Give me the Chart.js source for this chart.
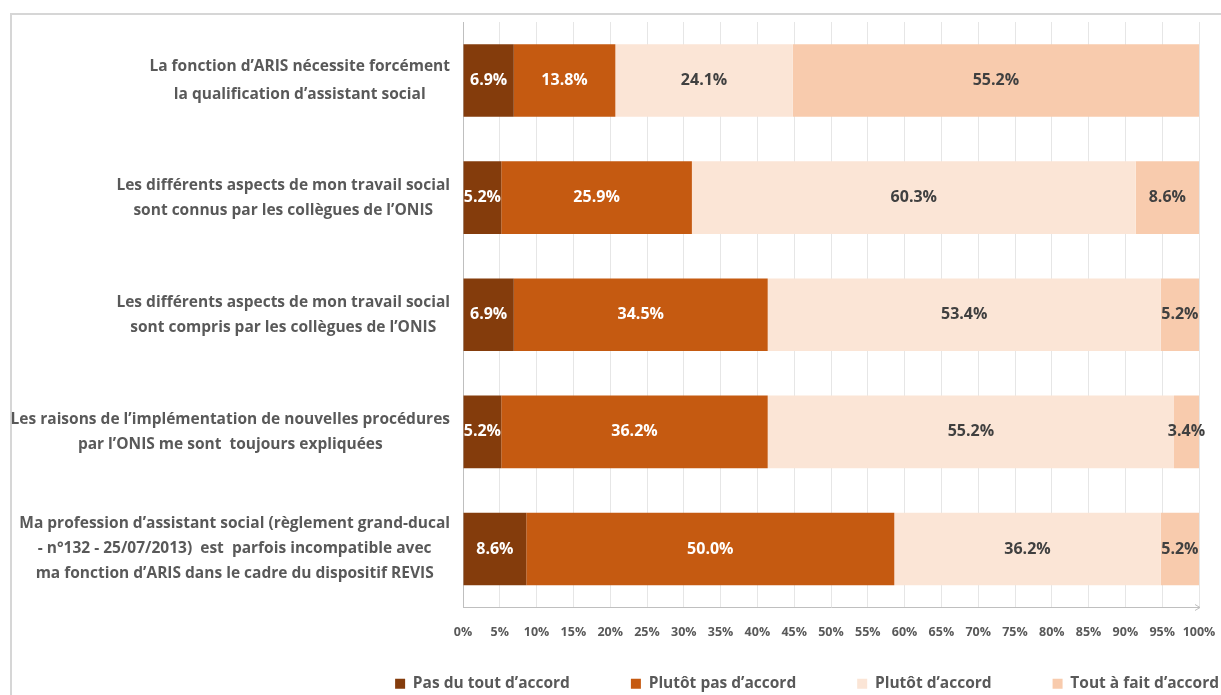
<!DOCTYPE html>
<html><head><meta charset="utf-8">
<script src="https://cdn.jsdelivr.net/npm/chart.js@4/dist/chart.umd.min.js"></script>
<style>
html,body{margin:0;padding:0;background:#fff;overflow:hidden;width:1221px;height:695px;}
#frame{position:absolute;left:10px;top:13px;width:1400px;height:800px;border:2px solid #d6d6d6;box-sizing:border-box;}
#wrap{position:absolute;left:0;top:0;width:1300px;height:743px;}
</style></head><body>
<div id="frame"></div>
<div id="wrap"><canvas id="c"></canvas></div>
<script>
const categories = [
  ["La fonction d\u2019ARIS nécessite forcément", "la qualification d\u2019assistant social"],
  ["Les différents aspects de mon travail social", "sont connus par les collègues de l\u2019ONIS"],
  ["Les différents aspects de mon travail social", "sont compris par les collègues de l\u2019ONIS"],
  ["Les raisons de l\u2019implémentation de nouvelles procédures", "par l\u2019ONIS me sont  toujours expliquées"],
  ["Ma profession d\u2019assistant social (règlement grand-ducal", "- n°132 - 25/07/2013)  est  parfois incompatible avec", "ma fonction d\u2019ARIS dans le cadre du dispositif REVIS"]
];
const seriesNames = ["Pas du tout d\u2019accord", "Plutôt pas d\u2019accord", "Plutôt d\u2019accord", "Tout à fait d\u2019accord"];
const pasDuTout = [6.9, 5.2, 6.9, 5.2, 8.6];
const plutotPas = [13.8, 25.9, 34.5, 36.2, 50.0];
const plutot = [24.1, 60.3, 53.4, 55.2, 36.2];
const toutAFait = [55.2, 8.6, 5.2, 3.4, 5.2];
const xTickStep = 5;

const FONT = "'Open Sans', 'Noto Sans', sans-serif";
const colors = ["#843C0C", "#C55A11", "#FBE5D6", "#F8CBAD"];
const labelColors = ["#ffffff", "#ffffff", "#404040", "#404040"];

const catLabelPlugin = {
  id: 'catLabels',
  afterLayout(chart) {
    // lift the legend row closer to the axis
    if (chart.legend) { chart.legend.top -= 41.5; chart.legend.bottom -= 41.5; }
  },
  afterDraw(chart) {
    const ctx = chart.ctx, ys = chart.scales.y, area = chart.chartArea;
    ctx.save();
    ctx.font = "bold 15.5px " + FONT;
    ctx.fillStyle = "#595959";
    ctx.textAlign = "center";
    ctx.textBaseline = "middle";
    const right = area.left - 13;
    categories.forEach((lines, i) => {
      const lh = lines.length === 2 && i === 0 ? 28 : 25;
      const y = ys.getPixelForValue(i);
      const maxW = Math.max(...lines.map(l => ctx.measureText(l).width));
      const cx = right - maxW / 2;
      const y0 = y - (lines.length - 1) * lh / 2;
      lines.forEach((l, k) => ctx.fillText(l, cx, y0 + k * lh));
    });
    // small arrow head at the end of the value axis
    ctx.strokeStyle = "#bfbfbf";
    ctx.lineWidth = 1;
    ctx.beginPath();
    ctx.moveTo(area.right - 4, area.bottom - 3);
    ctx.lineTo(area.right + 1, area.bottom);
    ctx.lineTo(area.right - 4, area.bottom + 3);
    ctx.stroke();
    ctx.restore();
  }
};

const valueLabelPlugin = {
  id: 'valueLabels',
  afterDatasetsDraw(chart) {
    const ctx = chart.ctx;
    ctx.save();
    ctx.font = "bold 16px " + FONT;
    ctx.textAlign = "center";
    ctx.textBaseline = "middle";
    chart.data.datasets.forEach((ds, di) => {
      const meta = chart.getDatasetMeta(di);
      ctx.fillStyle = labelColors[di];
      meta.data.forEach((el, i) => {
        const v = ds.data[i];
        ctx.fillText(v.toFixed(1) + "%", (el.x + el.base) / 2, el.y);
      });
    });
    ctx.restore();
  }
};

new Chart(document.getElementById('c'), {
  type: 'bar',
  data: {
    labels: categories,
    datasets: [pasDuTout, plutotPas, plutot, toutAFait].map((d, i) => ({
      label: seriesNames[i],
      data: d,
      backgroundColor: colors[i],
      borderWidth: 0,
      categoryPercentage: 0.62,
      barPercentage: 1.0
    }))
  },
  options: {
    indexAxis: 'y',
    responsive: true,
    maintainAspectRatio: false,
    animation: false,
    layout: { padding: { left: 0, right: 20, top: 22, bottom: 0 } },
    scales: {
      x: {
        stacked: true, min: 0, max: 100,
        ticks: { stepSize: xTickStep, callback: v => v + "%", color: "#595959", autoSkip: false, maxRotation: 0,
                 padding: 17, font: { family: FONT, size: 12.5, weight: 'bold' } },
        grid: { color: "#e6e6e6", drawTicks: false },
        border: { color: "#bfbfbf" },
        afterFit: s => { s.paddingRight = 101; }
      },
      y: {
        stacked: true,
        grid: { display: false },
        border: { color: "#bfbfbf" },
        ticks: { display: false },
        afterFit: s => { s.width = 463; }
      }
    },
    plugins: {
      tooltip: { enabled: false },
      legend: {
        position: 'bottom', align: 'end',
        labels: { boxWidth: 10, boxHeight: 10, padding: 61, color: "#595959",
                  font: { family: FONT, size: 15.5, weight: 'bold' } }
      }
    }
  },
  plugins: [catLabelPlugin, valueLabelPlugin]
});
</script>
</body></html>
